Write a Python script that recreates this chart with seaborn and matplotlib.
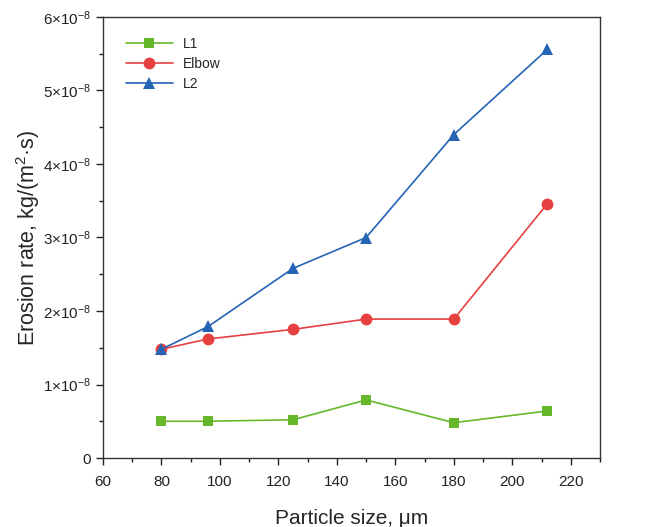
import matplotlib
matplotlib.use("Agg")
import matplotlib.pyplot as plt
import seaborn as sns
import pandas as pd
from matplotlib.ticker import MultipleLocator, FuncFormatter

sns.set_theme(style="ticks")
plt.rcParams['font.family'] = ['Liberation Sans', 'DejaVu Sans']
plt.rcParams['mathtext.fontset'] = 'custom'
plt.rcParams['mathtext.rm'] = 'Liberation Sans'
plt.rcParams['mathtext.it'] = 'Liberation Sans:italic'
plt.rcParams['mathtext.bf'] = 'Liberation Sans:bold'

sizes = [80, 96, 125, 150, 180, 212]
l1 = [0.50e-8, 0.50e-8, 0.52e-8, 0.79e-8, 0.48e-8, 0.64e-8]
elbow = [1.48e-8, 1.62e-8, 1.75e-8, 1.89e-8, 1.89e-8, 3.46e-8]
l2 = [1.48e-8, 1.79e-8, 2.58e-8, 3.00e-8, 4.40e-8, 5.56e-8]
series = ["L1", "Elbow", "L2"]
colors = {"L1": "#66b82a", "Elbow": "#e64040", "L2": "#2563b5"}
markers = {"L1": "s", "Elbow": "o", "L2": "^"}

df = pd.concat([
    pd.DataFrame({"size": sizes, "rate": v, "series": n})
    for n, v in zip(series, [l1, elbow, l2])
])

fig = plt.figure(figsize=(6.56, 5.27), dpi=100)
ax = fig.add_axes([103/656, 1-458/527, 497/656, 441/527])

sns.lineplot(data=df, x="size", y="rate", hue="series", style="series",
             palette=colors, markers=markers, dashes=False, markersize=8.5,
             markeredgewidth=0, linewidth=1.2, ax=ax, hue_order=series)

for ln in ax.lines:
    if ln.get_marker() == "s":
        ln.set_markersize(7.3)
    elif ln.get_marker() == "^":
        ln.set_markersize(9)

ax.set_xlim(60, 230)
ax.set_ylim(0, 6e-8)
ax.xaxis.set_major_locator(MultipleLocator(20))
ax.xaxis.set_minor_locator(MultipleLocator(10))
ax.yaxis.set_major_locator(MultipleLocator(1e-8))
ax.yaxis.set_minor_locator(MultipleLocator(0.5e-8))

def fmt(v, pos):
    n = int(round(v / 1e-8))
    if n == 0:
        return "0"
    return r"%d$\times$10$^{-8}$" % n
ax.yaxis.set_major_formatter(FuncFormatter(fmt))

for s in ax.spines.values():
    s.set_color("#333333")
    s.set_linewidth(1.0)
ax.tick_params(which="major", direction="out", length=5, width=1, labelsize=11, colors="#222222")
ax.tick_params(which="minor", direction="out", length=3, width=1, colors="#222222")
ax.tick_params(axis="x", which="major", pad=7.5)

ax.set_xlabel("Particle size, μm", fontsize=15, labelpad=14)
ax.set_ylabel("Erosion rate, kg/(m$^2$·s)", fontsize=15.5, labelpad=1)

leg = ax.legend(loc="upper left", bbox_to_anchor=(0.046, 0.955), frameon=False,
                fontsize=10, handlelength=3.4, handletextpad=0.7,
                labelspacing=0.45, borderpad=0, borderaxespad=0, title=None)
for h in leg.get_lines():
    if h.get_marker() == "s":
        h.set_markersize(7.3)
    elif h.get_marker() == "^":
        h.set_markersize(9)

fig.savefig("out.png", dpi=100)
